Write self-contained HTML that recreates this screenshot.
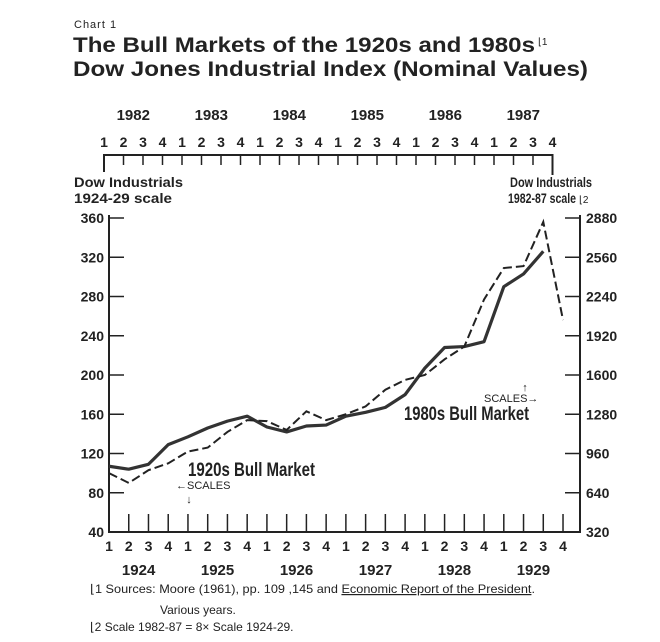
<!DOCTYPE html>
<html><head><meta charset="utf-8"><style>
body{margin:0;background:#fff;}
svg{display:block;font-family:"Liberation Sans",sans-serif;}
.b{font-family:"Liberation Sans Narrow","Liberation Sans",sans-serif;font-weight:bold;fill:#222;}
</style></head><body>
<svg id="chart" width="660" height="642" viewBox="0 0 660 642" xmlns="http://www.w3.org/2000/svg">
<text x="74" y="28" font-size="11" fill="#222" letter-spacing="1">Chart 1</text>
<text x="73" y="52" font-size="21" font-weight="bold" fill="#222" textLength="462" lengthAdjust="spacingAndGlyphs">The Bull Markets of the 1920s and 1980s</text>
<text x="538" y="45" font-size="10" fill="#222">⌊1</text>
<text x="73" y="76" font-size="21" font-weight="bold" fill="#222" textLength="515" lengthAdjust="spacingAndGlyphs">Dow Jones Industrial Index (Nominal Values)</text>
<g id="axes"></g>
<g id="series"></g>
<text class="b" x="74" y="187" font-size="14" textLength="109" lengthAdjust="spacingAndGlyphs">Dow Industrials</text>
<text class="b" x="74" y="203" font-size="14" textLength="98" lengthAdjust="spacingAndGlyphs">1924-29 scale</text>
<text class="b" x="510" y="187" font-size="14" textLength="82" lengthAdjust="spacingAndGlyphs">Dow Industrials</text>
<text class="b" x="508" y="203" font-size="14" textLength="68" lengthAdjust="spacingAndGlyphs">1982-87 scale</text>
<text x="579" y="203" font-size="10" fill="#222">⌊2</text>
<text class="b" x="188" y="476" font-size="19" textLength="127" lengthAdjust="spacingAndGlyphs">1920s Bull Market</text>
<text x="176" y="489" font-size="11" fill="#222">←SCALES</text>
<text x="189" y="503" font-size="11" fill="#222" text-anchor="middle">↓</text>
<text class="b" x="404" y="420" font-size="19" textLength="125" lengthAdjust="spacingAndGlyphs">1980s Bull Market</text>
<text x="484" y="402" font-size="11" fill="#222">SCALES→</text>
<text x="525" y="391" font-size="11" fill="#222" text-anchor="middle">↑</text>
<text x="90" y="593" font-size="12" fill="#222" textLength="445" lengthAdjust="spacingAndGlyphs">⌊1 Sources: Moore (1961), pp. 109 ,145 and <tspan text-decoration="underline">Economic Report of the President</tspan>.</text>
<text x="160" y="614" font-size="12" fill="#222">Various years.</text>
<text x="90" y="631" font-size="12" fill="#222">⌊2 Scale 1982-87 = 8× Scale 1924-29.</text>
<script>
const quarters = ["1","2","3","4","1","2","3","4","1","2","3","4","1","2","3","4","1","2","3","4","1","2","3","4"];
const years1920s = ["1924","1925","1926","1927","1928","1929"];
const years1980s = ["1982","1983","1984","1985","1986","1987"];
const leftTicks = [40,80,120,160,200,240,280,320,360];
const rightTicks = [320,640,960,1280,1600,1920,2240,2560,2880];
const dow1920s = [107,104,109,129,137,146,153,158,147,142,148,149,158,162,167,180,207,228,229,234,290,303,326];
const dow1980s = [800,720,824,880,976,1008,1136,1232,1224,1152,1304,1232,1280,1344,1480,1560,1600,1728,1832,2216,2472,2488,2848,2048];

const NS="http://www.w3.org/2000/svg";
const axes=document.getElementById('axes'), series=document.getElementById('series');
const x0=109, dx=19.74, xTop0=104, dxTop=19.5;
const xq=i=>x0+i*dx;
const yL=v=>532-(v-40)*(314/320);
const yR=v=>532-(v-320)*(314/2560);
function mk(tag,attrs,parent,text){const e=document.createElementNS(NS,tag);for(const k in attrs)e.setAttribute(k,attrs[k]);if(text!==undefined)e.textContent=text;parent.appendChild(e);return e;}
const st={stroke:'#222','stroke-width':2,fill:'none'};
let e=mk('line',Object.assign({x1:x0,y1:215,x2:x0,y2:533},st),axes);


e=mk('line',Object.assign({x1:x0-1,y1:532,x2:580,y2:532},st),axes);


e=mk('line',Object.assign({x1:580,y1:215,x2:580,y2:533},st),axes);


e=mk('polyline',Object.assign({points:`${xTop0},172 ${xTop0},155 ${xTop0+23*dxTop},155 ${xTop0+23*dxTop},175`},st),axes);


quarters.forEach((q,i)=>{
  let t=mk('line',{x1:xq(i),y1:532,x2:xq(i),y2:514,stroke:'#222','stroke-width':1.5},axes);
  
  
  let l=mk('text',{x:xq(i),y:551,'font-size':14,'text-anchor':'middle',class:'b'},axes,q);
  
  
  const xt=xTop0+i*dxTop;
  t=mk('line',{x1:xt,y1:155,x2:xt,y2:165,stroke:'#222','stroke-width':1.5},axes);
  
  
  l=mk('text',{x:xt,y:147,'font-size':14,'text-anchor':'middle',class:'b'},axes,q);
  
  
});
years1920s.forEach((y,i)=>{
  const l=mk('text',{x:xq(i*4+1.5),y:575,'font-size':15,'text-anchor':'middle',class:'b'},axes,y);
  
  
});
years1980s.forEach((y,i)=>{
  const l=mk('text',{x:xTop0+(i*4+1.5)*dxTop,y:120,'font-size':15,'text-anchor':'middle',class:'b'},axes,y);
  
  
});
leftTicks.forEach(v=>{
  const t=mk('line',{x1:x0,y1:yL(v),x2:x0+15,y2:yL(v),stroke:'#222','stroke-width':1.5},axes);
  
  
  const l=mk('text',{x:x0-5,y:yL(v)+5,'font-size':14,'text-anchor':'end',class:'b'},axes,v);
  
  
});
rightTicks.forEach(v=>{
  const t=mk('line',{x1:580,y1:yR(v),x2:565,y2:yR(v),stroke:'#222','stroke-width':1.5},axes);
  
  
  const l=mk('text',{x:586,y:yR(v)+5,'font-size':14,class:'b'},axes,v);
  
  
});
let p=mk('polyline',{points:dow1920s.map((v,i)=>xq(i)+','+yL(v)).join(' '),stroke:'#333','stroke-width':3.2,fill:'none','stroke-linejoin':'round'},series);


p=mk('polyline',{points:dow1980s.map((v,i)=>xq(i)+','+yR(v)).join(' '),stroke:'#222','stroke-width':2,fill:'none','stroke-dasharray':'9,4'},series);


</script>
</svg>
</body></html>
